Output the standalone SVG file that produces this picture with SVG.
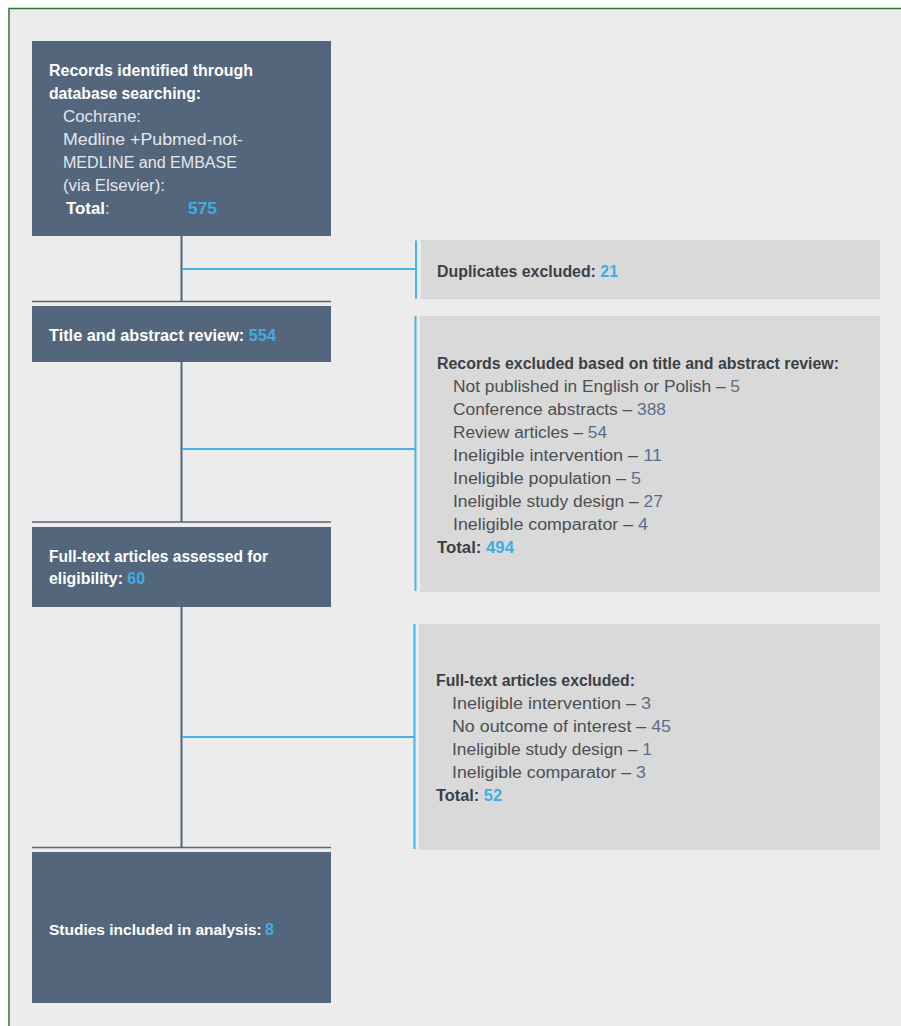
<svg xmlns="http://www.w3.org/2000/svg" width="901" height="1026" viewBox="0 0 901 1026">
<style>
text{font-family:"Liberation Sans",Arial,sans-serif;font-size:16px}
.node{fill:#53667c}
.ex{fill:#d9d9d9}
.wb{fill:#ffffff;font-weight:bold}
.wl{fill:#e4e8ec}
.db{fill:#3b4046;font-weight:bold}
.dl{fill:#4c4f53}
.num{fill:#5b6f8c}
.blue{fill:#3fade4}
.trunk{stroke:#53667c;stroke-width:2;fill:none}
.sep{stroke:#53667c;stroke-width:1.5;fill:none}
.link{stroke:#44b4ea;stroke-width:2;fill:none}
</style>
<rect x="0" y="0" width="901" height="1026" fill="#ffffff"/>
<rect x="9" y="8.5" width="900" height="1030" fill="#ececec" stroke="#2f7a35" stroke-width="1.5"/>

<g id="connectors">
<path class="trunk" d="M181.5 236V302M181.5 362V522M181.5 606V848"/>
<path class="sep" d="M32 301.5H331M32 522H331M32 847.5H331"/>
<path class="link" d="M182 269H416M416 240.5V298.5"/>
<path class="link" d="M182 449H415M415.5 316V591"/>
<path class="link" d="M182 737H414M414.5 624V849"/>
</g>

<g id="n1">
<rect class="node" x="32" y="41" width="299" height="195"/>
<text class="wb" x="49" y="76" textLength="204" lengthAdjust="spacingAndGlyphs">Records identified through</text>
<text class="wb" x="49" y="99" textLength="152" lengthAdjust="spacingAndGlyphs">database searching:</text>
<text class="wl" x="63" y="122" textLength="78" lengthAdjust="spacingAndGlyphs">Cochrane:</text>
<text class="wl" x="63" y="145" textLength="180" lengthAdjust="spacingAndGlyphs">Medline +Pubmed-not-</text>
<text class="wl" x="63" y="168" textLength="174" lengthAdjust="spacingAndGlyphs">MEDLINE and EMBASE</text>
<text class="wl" x="63" y="191" textLength="102" lengthAdjust="spacingAndGlyphs">(via Elsevier):</text>
<text class="wb" x="66" y="214" textLength="39" lengthAdjust="spacingAndGlyphs">Total</text>
<text class="wl" x="105" y="214">:</text>
<text class="blue" x="188" y="214" font-weight="bold" textLength="29" lengthAdjust="spacingAndGlyphs">575</text>
</g>

<g id="n2">
<rect class="node" x="32" y="306" width="299" height="56"/>
<text class="wb" x="49" y="341" textLength="227" lengthAdjust="spacingAndGlyphs">Title and abstract review: <tspan class="blue">554</tspan></text>
</g>

<g id="n3">
<rect class="node" x="32" y="527" width="299" height="80"/>
<text class="wb" x="49" y="562" textLength="219" lengthAdjust="spacingAndGlyphs">Full-text articles assessed for</text>
<text class="wb" x="49" y="584" textLength="96" lengthAdjust="spacingAndGlyphs">eligibility: <tspan class="blue">60</tspan></text>
</g>

<g id="n4">
<rect class="node" x="32" y="852" width="299" height="151"/>
<text class="wb" x="49" y="935" style="font-size:15.5px">Studies included in analysis:</text>
<text class="wb blue" x="265" y="935">8</text>
</g>

<g id="e1">
<rect class="ex" x="421" y="240" width="459" height="59"/>
<text class="db" x="437" y="277" textLength="181" lengthAdjust="spacingAndGlyphs">Duplicates excluded: <tspan class="blue">21</tspan></text>
</g>

<g id="e2">
<rect class="ex" x="420" y="316" width="460" height="276"/>
<text class="db" x="437" y="369" textLength="402" lengthAdjust="spacingAndGlyphs">Records excluded based on title and abstract review:</text>
<text class="dl" x="453" y="392" textLength="287" lengthAdjust="spacingAndGlyphs">Not published in English or Polish – <tspan class="num">5</tspan></text>
<text class="dl" x="453" y="415" textLength="213" lengthAdjust="spacingAndGlyphs">Conference abstracts – <tspan class="num">388</tspan></text>
<text class="dl" x="453" y="438" textLength="154" lengthAdjust="spacingAndGlyphs">Review articles – <tspan class="num">54</tspan></text>
<text class="dl" x="453" y="461" textLength="209" lengthAdjust="spacingAndGlyphs">Ineligible intervention – <tspan class="num">11</tspan></text>
<text class="dl" x="453" y="484" textLength="188" lengthAdjust="spacingAndGlyphs">Ineligible population – <tspan class="num">5</tspan></text>
<text class="dl" x="453" y="507" textLength="210" lengthAdjust="spacingAndGlyphs">Ineligible study design – <tspan class="num">27</tspan></text>
<text class="dl" x="453" y="530" textLength="195" lengthAdjust="spacingAndGlyphs">Ineligible comparator – <tspan class="num">4</tspan></text>
<text class="db" x="437" y="553" textLength="77" lengthAdjust="spacingAndGlyphs">Total: <tspan class="blue">494</tspan></text>
</g>

<g id="e3">
<rect class="ex" x="419" y="624" width="461" height="226"/>
<text class="db" x="436" y="686" textLength="199" lengthAdjust="spacingAndGlyphs">Full-text articles excluded:</text>
<text class="dl" x="452" y="709" textLength="199" lengthAdjust="spacingAndGlyphs">Ineligible intervention – <tspan class="num">3</tspan></text>
<text class="dl" x="452" y="732" textLength="219" lengthAdjust="spacingAndGlyphs">No outcome of interest – <tspan class="num">45</tspan></text>
<text class="dl" x="452" y="755" textLength="200" lengthAdjust="spacingAndGlyphs">Ineligible study design – <tspan class="num">1</tspan></text>
<text class="dl" x="452" y="778" textLength="194" lengthAdjust="spacingAndGlyphs">Ineligible comparator – <tspan class="num">3</tspan></text>
<text class="db" x="436" y="801" textLength="66" lengthAdjust="spacingAndGlyphs">Total: <tspan class="blue">52</tspan></text>
</g>
</svg>
